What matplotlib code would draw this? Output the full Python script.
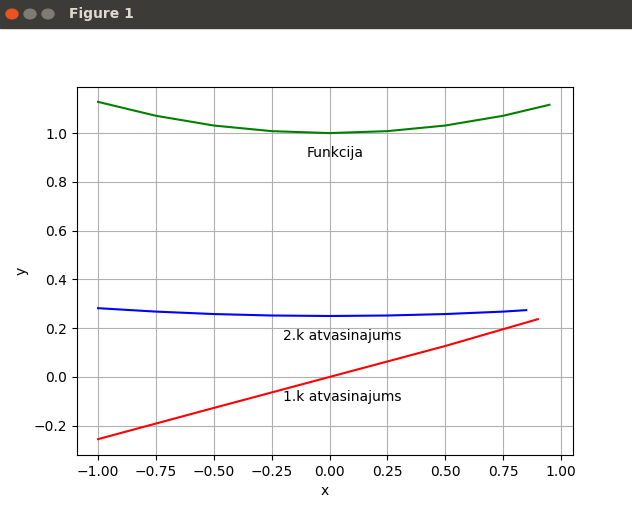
import matplotlib
matplotlib.use("Agg")
import matplotlib.pyplot as plt
from matplotlib.patches import Rectangle, Circle

# values
x_func = [-1.0, -0.75, -0.5, -0.25, 0.0, 0.25, 0.5, 0.75, 0.95]
y_func = [1.128, 1.071, 1.031, 1.008, 1.0, 1.008, 1.031, 1.071, 1.116]
x_d2 = [-1.0, -0.75, -0.5, -0.25, 0.0, 0.25, 0.5, 0.75, 0.85]
y_d2 = [0.282, 0.268, 0.258, 0.252, 0.25, 0.252, 0.258, 0.268, 0.274]
x_d1 = [-1.0, -0.5, 0.0, 0.5, 0.9]
y_d1 = [-0.255, -0.127, 0.0, 0.127, 0.237]

fig = plt.figure(figsize=(6.32, 5.08), dpi=100)

# window title bar
fig.patches.append(Rectangle((0, 1 - 28 / 508), 1, 28 / 508, transform=fig.transFigure,
                             color="#3c3b37", zorder=0))
for i, c in enumerate(["#e95420", "#7d7b74", "#7d7b74"]):
    fig.patches.append(Circle(((12 + 18 * i) / 632, 1 - 14 / 508), 6 / 632,
                              transform=fig.transFigure, color=c))
fig.text(69 / 632, 1 - 14 / 508, "Figure 1", color="#dfdbd2", fontsize=10,
         fontweight="bold", va="center")

ax = fig.add_axes([77 / 632, 53 / 508, 496 / 632, 368 / 508])
ax.plot(x_func, y_func, color="green")
ax.plot(x_d2, y_d2, color="blue")
ax.plot(x_d1, y_d1, color="red")
ax.text(-0.1, 0.9, "Funkcija")
ax.text(-0.2, 0.15, "2.k atvasinajums")
ax.text(-0.2, -0.1, "1.k atvasinajums")
ax.set_xlim(-1.091, 1.052)
ax.set_ylim(-0.32, 1.189)
ax.set_xlabel("x")
ax.set_ylabel("y")
ax.grid(True)

fig.savefig("out.png")
